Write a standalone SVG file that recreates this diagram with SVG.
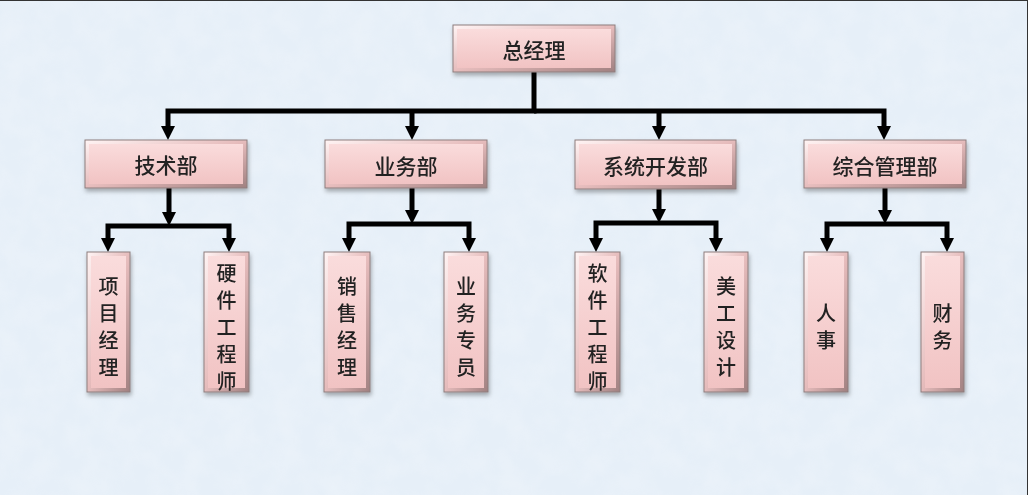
<svg xmlns="http://www.w3.org/2000/svg" width="1028" height="495" viewBox="0 0 1028 495">
<defs>
<style>
.frame{fill:url(#bevel);stroke:#8d7e7e;stroke-width:1}
.face{fill:url(#face)}
.lbl{font-family:"Noto Sans CJK SC","Noto Sans",sans-serif;font-size:21px;font-weight:500;fill:#222;text-anchor:middle;dominant-baseline:central}
.vl{font-family:"Noto Sans CJK SC","Noto Sans",sans-serif;font-size:20px;font-weight:500;fill:#222;text-anchor:middle;dominant-baseline:central}
.conn{stroke:#000;stroke-width:5;fill:none;stroke-linejoin:miter}
.arr{marker-end:url(#ah)}
.box{filter:url(#sh)}
</style>
<linearGradient id="bevel" x1="0" y1="0" x2="1" y2="1">
<stop offset="0" stop-color="#fff4f4"/>
<stop offset="0.5" stop-color="#e6bcbc"/>
<stop offset="1" stop-color="#a08080"/>
</linearGradient>
<linearGradient id="face" x1="0" y1="0" x2="0" y2="1">
<stop offset="0" stop-color="#fadcdc"/>
<stop offset="1" stop-color="#f1c3c3"/>
</linearGradient>
<filter id="sh" x="-20%" y="-20%" width="140%" height="140%">
<feDropShadow dx="1" dy="3" stdDeviation="2" flood-color="#000" flood-opacity="0.3"/>
</filter>
<filter id="tex" x="0" y="0" width="100%" height="100%">
<feTurbulence type="fractalNoise" baseFrequency="0.04" numOctaves="3" seed="3" result="n"/>
<feColorMatrix in="n" type="matrix" values="0 0 0 0 1  0 0 0 0 1  0 0 0 0 1  0 0 0 0.5 -0.15"/>
</filter>
<marker id="ah" viewBox="0 0 14 14" refX="2" refY="7" markerWidth="14" markerHeight="14" markerUnits="userSpaceOnUse" orient="auto">
<path d="M0,0 L14,7 L0,14 z" fill="#000"/>
</marker>
</defs>
<rect x="0" y="0" width="1028" height="495" fill="#e6eff8"/>
<rect x="0" y="0" width="1028" height="495" filter="url(#tex)" opacity="0.6"/>
<path d="M0,0.5 H1028 M1027.5,0 V495" stroke="#333" stroke-width="1"/>

<g id="connectors">
<path class="conn arr" d="M534,72 V111 H168 V128"/>
<path class="conn arr" d="M534,111 H884 V128"/>
<path class="conn arr" d="M412,111 V128"/>
<path class="conn arr" d="M659,111 V128"/>
<path class="conn arr" d="M169,188 V214"/>
<path class="conn arr" d="M169,226 H108 V240"/>
<path class="conn arr" d="M169,226 H229 V240"/>
<path class="conn arr" d="M412,188 V212"/>
<path class="conn arr" d="M412,224 H349 V240"/>
<path class="conn arr" d="M412,224 H469 V240"/>
<path class="conn arr" d="M659,189 V211"/>
<path class="conn arr" d="M659,223 H596 V240"/>
<path class="conn arr" d="M659,223 H716 V240"/>
<path class="conn arr" d="M885,188 V212"/>
<path class="conn arr" d="M885,224 H827 V240"/>
<path class="conn arr" d="M885,224 H947 V240"/>
</g>

<g id="node-zongjingli" class="box">
<rect class="frame" x="453" y="25" width="162" height="47"/>
<rect class="face" x="457" y="29" width="154" height="39"/>
<text class="lbl" x="534" y="49">总经理</text>
</g>

<g id="node-jishubu" class="box">
<rect class="frame" x="85" y="140" width="162" height="48"/>
<rect class="face" x="89" y="144" width="154" height="40"/>
<text class="lbl" x="166" y="164">技术部</text>
</g>
<g id="node-yewubu" class="box">
<rect class="frame" x="325" y="140" width="162" height="48"/>
<rect class="face" x="329" y="144" width="154" height="40"/>
<text class="lbl" x="406" y="165">业务部</text>
</g>
<g id="node-xitongkaifabu" class="box">
<rect class="frame" x="575" y="140" width="161" height="49"/>
<rect class="face" x="579" y="144" width="153" height="41"/>
<text class="lbl" x="655.5" y="165">系统开发部</text>
</g>
<g id="node-zongheguanlibu" class="box">
<rect class="frame" x="804" y="140" width="162" height="48"/>
<rect class="face" x="808" y="144" width="154" height="40"/>
<text class="lbl" x="885" y="165">综合管理部</text>
</g>

<g id="node-xiangmujingli" class="box">
<rect class="frame" x="87" y="252" width="43" height="140"/>
<rect class="face" x="91" y="256" width="35" height="132"/>
<text class="vl"><tspan x="108.5" y="284.5">项</tspan><tspan x="108.5" y="311.5">目</tspan><tspan x="108.5" y="338.5">经</tspan><tspan x="108.5" y="365.5">理</tspan></text>
</g>
<g id="node-yingjiangongchengshi" class="box">
<rect class="frame" x="204" y="252" width="45" height="140"/>
<rect class="face" x="208" y="256" width="37" height="132"/>
<text class="vl"><tspan x="226.5" y="272">硬</tspan><tspan x="226.5" y="299">件</tspan><tspan x="226.5" y="326">工</tspan><tspan x="226.5" y="353">程</tspan><tspan x="226.5" y="380">师</tspan></text>
</g>
<g id="node-xiaoshoujingli" class="box">
<rect class="frame" x="324" y="252" width="46" height="140"/>
<rect class="face" x="328" y="256" width="38" height="132"/>
<text class="vl"><tspan x="347" y="284.5">销</tspan><tspan x="347" y="311.5">售</tspan><tspan x="347" y="338.5">经</tspan><tspan x="347" y="365.5">理</tspan></text>
</g>
<g id="node-yewuzhuanyuan" class="box">
<rect class="frame" x="444" y="252" width="44" height="140"/>
<rect class="face" x="448" y="256" width="36" height="132"/>
<text class="vl"><tspan x="466" y="284.5">业</tspan><tspan x="466" y="311.5">务</tspan><tspan x="466" y="338.5">专</tspan><tspan x="466" y="365.5">员</tspan></text>
</g>
<g id="node-ruanjiangongchengshi" class="box">
<rect class="frame" x="575" y="252" width="45" height="140"/>
<rect class="face" x="579" y="256" width="37" height="132"/>
<text class="vl"><tspan x="597.5" y="272">软</tspan><tspan x="597.5" y="299">件</tspan><tspan x="597.5" y="326">工</tspan><tspan x="597.5" y="353">程</tspan><tspan x="597.5" y="380">师</tspan></text>
</g>
<g id="node-meigongsheji" class="box">
<rect class="frame" x="704" y="252" width="44" height="140"/>
<rect class="face" x="708" y="256" width="36" height="132"/>
<text class="vl"><tspan x="726" y="284.5">美</tspan><tspan x="726" y="311.5">工</tspan><tspan x="726" y="338.5">设</tspan><tspan x="726" y="365.5">计</tspan></text>
</g>
<g id="node-renshi" class="box">
<rect class="frame" x="804" y="252" width="44" height="140"/>
<rect class="face" x="808" y="256" width="36" height="132"/>
<text class="vl"><tspan x="826" y="311.5">人</tspan><tspan x="826" y="338.5">事</tspan></text>
</g>
<g id="node-caiwu" class="box">
<rect class="frame" x="921" y="252" width="43" height="140"/>
<rect class="face" x="925" y="256" width="35" height="132"/>
<text class="vl"><tspan x="942.5" y="311.5">财</tspan><tspan x="942.5" y="338.5">务</tspan></text>
</g>
</svg>
